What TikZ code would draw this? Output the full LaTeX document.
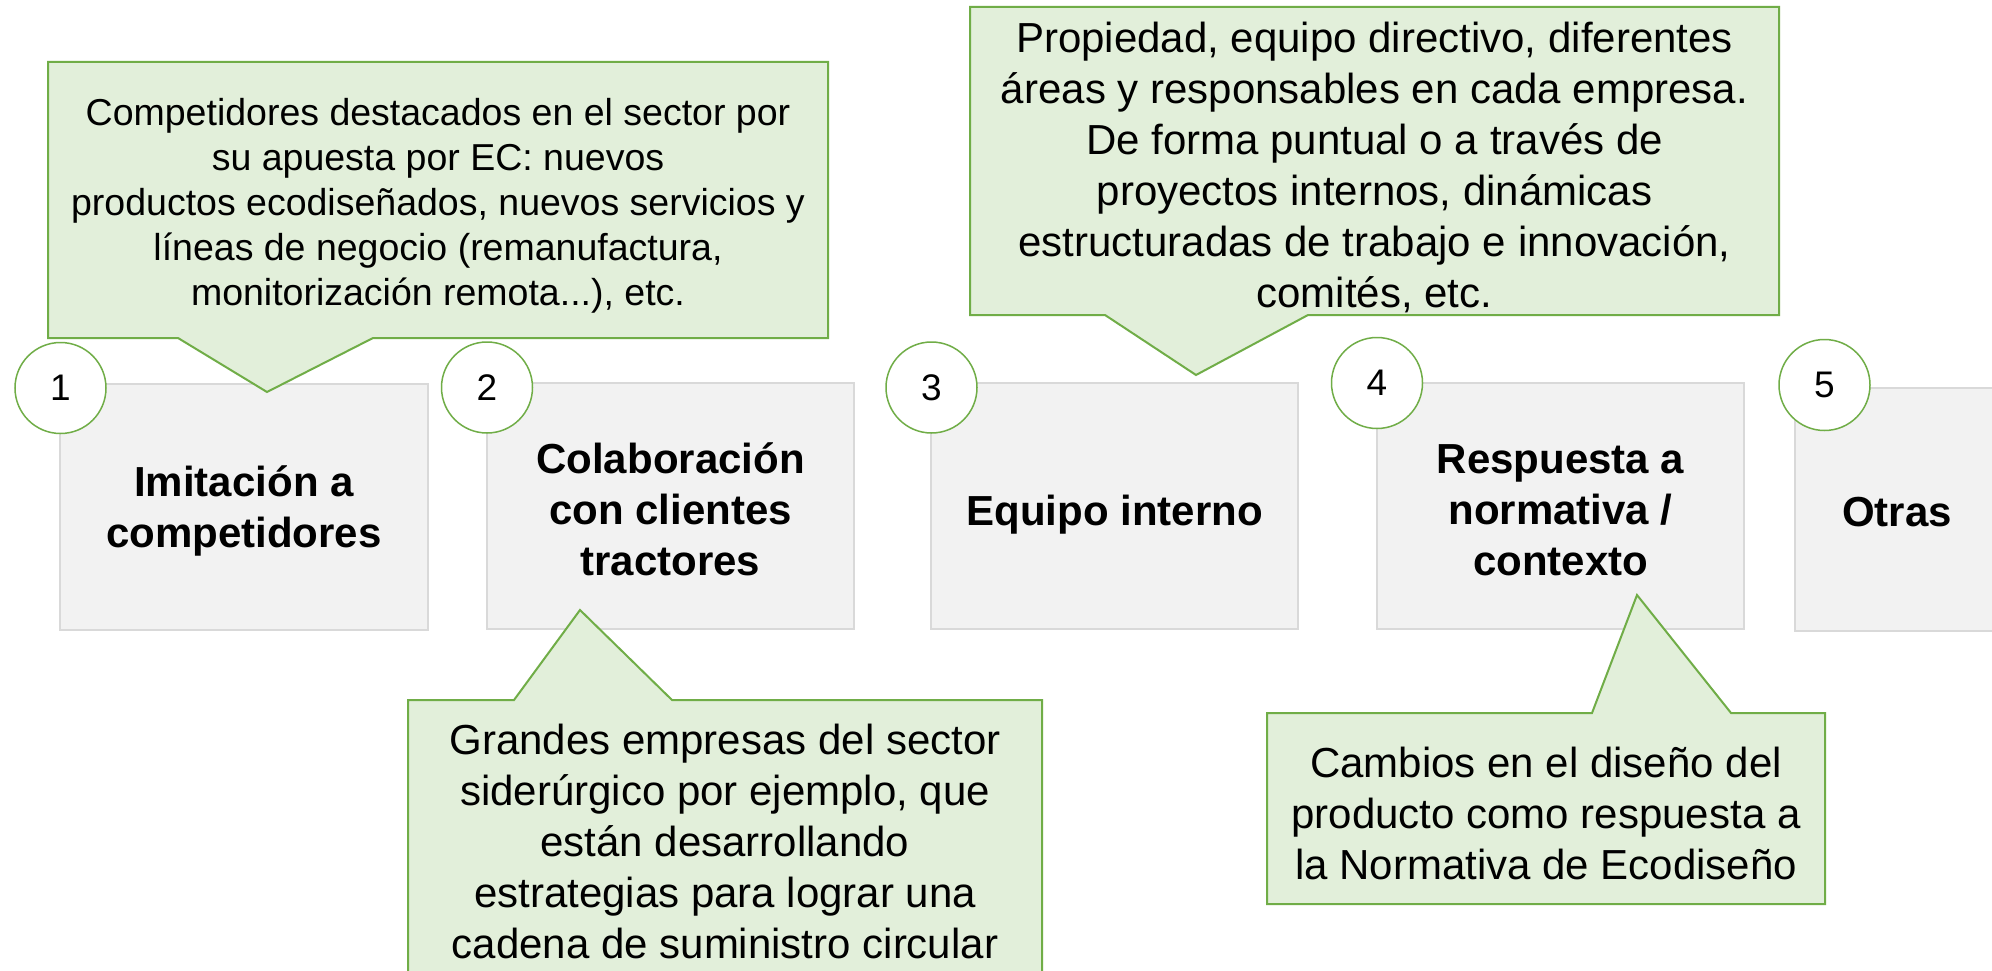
\documentclass[tikz,border=0pt]{standalone}
\usepackage{fontspec}
\setmainfont{Liberation Sans}
\definecolor{gborder}{HTML}{70AD47}
\definecolor{gfill}{HTML}{E2EFDA}
\definecolor{boxfill}{HTML}{F2F2F2}
\definecolor{boxline}{HTML}{D9D9D9}
\tikzset{
  graybox/.style={rectangle, fill=boxfill, draw=boxline, line width=1.5pt, inner sep=0pt},
  calloutshape/.style={fill=gfill, draw=gborder, line width=2pt, line join=miter},
  numcircle/.style={circle, draw=gborder, fill=white, line width=1.5pt, minimum size=91pt, inner sep=0pt, font=\fontsize{37}{44}\selectfont},
  boxlabel/.style={align=center, font=\bfseries\fontsize{42}{51}\selectfont, inner sep=0pt},
  notetext/.style={align=center, font=\fontsize{42}{51}\selectfont, inner sep=0pt},
  smallnote/.style={align=center, font=\fontsize{37.5}{45}\selectfont, inner sep=0pt},
}
\begin{document}
\begin{tikzpicture}[x=1pt, y=-1pt]
\clip (0,0) rectangle (1992,971);
\fill[white] (0,0) rectangle (1992,971);

% gray boxes
\node[graybox, minimum width=368pt, minimum height=246pt] (b1) at (244,507) {};
\node[graybox, minimum width=367pt, minimum height=246pt] (b2) at (670.5,506) {};
\node[graybox, minimum width=367pt, minimum height=246pt] (b3) at (1114.5,506) {};
\node[graybox, minimum width=367pt, minimum height=246pt] (b4) at (1560.5,506) {};
\node[graybox, minimum width=367pt, minimum height=243pt] (b5) at (1978.5,509.5) {};

\node[boxlabel] (t1) at (244,511) {Imitación a\\competidores};
\node[boxlabel] (t2) at (670.5,509) {Colaboración\\con clientes\\tractores};
\node[boxlabel] (t3) at (1114.5,515) {Equipo interno};
\node[boxlabel] (t4) at (1560.5,510) {Respuesta a\\normativa /\\contexto};
\node[boxlabel] (t5) at (1897,512) {Otras};

% callouts
\draw[calloutshape] (48,62) -- (828,62) -- (828,338) -- (373,338) -- (267,392) -- (178,338) -- (48,338) -- cycle;
\node[smallnote] (n1) at (438,206) {Competidores destacados en el sector por\\su apuesta por EC: nuevos\\productos ecodiseñados, nuevos servicios y\\líneas de negocio (remanufactura,\\monitorización remota...), etc.};

\draw[calloutshape] (970,7) -- (1779,7) -- (1779,315) -- (1308,315) -- (1196,375) -- (1105,315) -- (970,315) -- cycle;
\node[notetext] (n3) at (1374.5,167) {Propiedad, equipo directivo, diferentes\\áreas y responsables en cada empresa.\\De forma puntual o a través de\\proyectos internos, dinámicas\\estructuradas de trabajo e innovación,\\comités, etc.};

\draw[calloutshape] (408,700) -- (514,700) -- (580,610) -- (672,700) -- (1042,700) -- (1042,995) -- (408,995) -- cycle;
\node[notetext] (n2) at (725,841) {Grandes empresas del sector\\siderúrgico por ejemplo, que\\están desarrollando\\estrategias para lograr una\\cadena de suministro circular};

\draw[calloutshape] (1267,713) -- (1592,713) -- (1637,595) -- (1731,713) -- (1825,713) -- (1825,904) -- (1267,904) -- cycle;
\node[notetext] (n4) at (1546,813) {Cambios en el diseño del\\producto como respuesta a\\la Normativa de Ecodiseño};

% number circles
\node[numcircle] (c1) at (60.5,388) {1};
\node[numcircle] (c2) at (487,387.5) {2};
\node[numcircle] (c3) at (931.5,387.5) {3};
\node[numcircle] (c4) at (1377,383) {4};
\node[numcircle] (c5) at (1824.5,385) {5};
\end{tikzpicture}
\end{document}
